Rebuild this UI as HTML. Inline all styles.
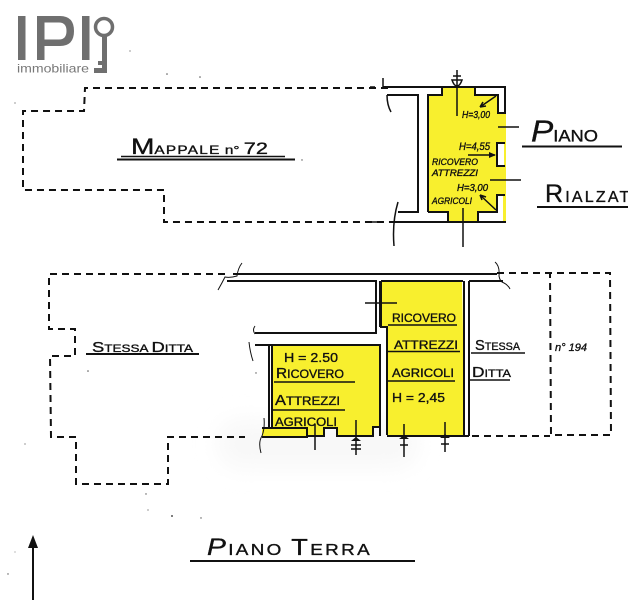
<!DOCTYPE html>
<html><head><meta charset="utf-8"><style>
html,body{margin:0;padding:0;background:#fff;width:628px;height:600px;overflow:hidden}
svg{display:block}
text{font-family:"Liberation Sans",sans-serif;fill:#111;stroke:#111;stroke-width:.35}
.d{fill:none;stroke:#111;stroke-width:2;stroke-dasharray:7 5}
.l{fill:none;stroke:#111;stroke-width:1.5}
.t{fill:none;stroke:#111;stroke-width:1}
.h{fill:none;stroke:#111;stroke-width:2}
.y{fill:#f8ef2e}
</style></head><body>
<svg width="628" height="600" viewBox="0 0 628 600" xmlns="http://www.w3.org/2000/svg">
<defs><filter id="b" x="-30%" y="-60%" width="160%" height="220%"><feGaussianBlur stdDeviation="11"/></filter></defs>
<!-- watermark -->
<rect x="218" y="420" width="200" height="48" rx="22" fill="#f8f8f8" filter="url(#b)"/>
<!-- logo -->
<g fill="#6f6f6f">
<rect x="18" y="16" width="7.500" height="44"/>
<rect x="82" y="16" width="7.500" height="44"/>
<path d="M37 16H60Q74 16 74 31Q74 46 60 46H44.500V60H37ZM44.500 22.500V39.500H59Q66.500 39.500 66.500 31Q66.500 22.500 59 22.500Z" fill-rule="evenodd"/>
<rect x="102" y="35" width="5" height="38"/>
<rect x="94" y="68" width="13" height="5"/>
<rect x="98" y="61" width="4" height="4"/>
</g>
<circle cx="104" cy="27" r="8.500" fill="none" stroke="#6f6f6f" stroke-width="3.500"/>
<text x="17" y="72.500" font-size="12" textLength="72" lengthAdjust="spacingAndGlyphs" style="fill:#777;stroke:none">immobiliare</text>

<!-- yellow fills -->
<polygon class="y" points="428,95 442,95 442,88 475,88 475,95 498,95 498,113 506,113 506,222 503,222 503,195 497,195 497,212 478,212 478,222 448,222 448,212 428,212"/>
<rect x="497" y="143" width="7" height="23" fill="#fff"/>
<polygon class="y" points="381,281 462,281 465,435 387,435 387,327 381,327"/>
<polygon class="y" points="272,345 380,345 380,427 373,427 373,436 337,436 337,428 324,428 324,436 307,436 307,437 262,437 262,428 272,428"/>

<!-- upper dashed -->
<path class="d" d="M388 88H85L84 111H23V190H164V222H396"/>
<!-- upper walls -->
<path class="h" d="M383 87H505V113H498V95H475V87M387 95H418V212H398M428 212V95H442V87M394 222H506M428 212H448V222M478 222V212H497V195H505M505 143H497V166H505"/>
<path class="l" d="M383 78V88M387 95Q387 105 391 112M398 202Q392 222 394 246M370 87H375M370 222H378"/>
<path class="l" d="M457 70V116M453 76H461M452 80H462Q460 86 457 86Q454 86 452 80ZM463 208V247M498 127H519M490 180H521"/>
<path class="l" d="M496 96L480 107M480 107L486 106M480 107L483 102M480 195L496 210M480 195L486 197M480 195L482 200M468 155H495"/>
<path d="M496 155L489 152V158Z" fill="#111"/>
<!-- upper texts -->
<g font-style="italic">
<text x="462" y="118" font-size="10" textLength="28" lengthAdjust="spacingAndGlyphs">H=3,00</text>
<text x="459" y="150" font-size="11" textLength="31" lengthAdjust="spacingAndGlyphs">H=4,55</text>
<text x="432" y="165" font-size="9" textLength="46" lengthAdjust="spacingAndGlyphs">RICOVERO</text>
<text x="432" y="176" font-size="9" textLength="46" lengthAdjust="spacingAndGlyphs">ATTREZZI</text>
<text x="457" y="191" font-size="10" textLength="31" lengthAdjust="spacingAndGlyphs">H=3,00</text>
<text x="432" y="204" font-size="9" textLength="40" lengthAdjust="spacingAndGlyphs">AGRICOLI</text>
</g>
<text x="131" y="154" textLength="137" lengthAdjust="spacingAndGlyphs" font-size="12"><tspan font-size="22">M</tspan><tspan letter-spacing="1">APPALE</tspan> <tspan>n° </tspan><tspan font-size="17">72</tspan></text>
<path class="l" d="M121 156.500H285"/><path class="h" d="M117 159.500H295"/>
<text x="531" y="141.500" textLength="67" lengthAdjust="spacingAndGlyphs" font-size="17"><tspan font-size="31" font-style="italic">P</tspan>IANO</text>
<path class="h" d="M522 146.500H622M537 207H628"/>
<text x="545" y="202" font-size="16" letter-spacing="2.200"><tspan font-size="25">R</tspan>IALZATO</text>

<!-- lower dashed -->
<path class="d" d="M225 274H49V329H75V356H50L51 437H76V484H168V437H245"/>
<path class="d" d="M497 273H610L611 435H551L550 273M472 436H550"/>
<!-- lower walls -->
<path class="h" d="M233 274H497M227 281H376V333H255M469 281H503M469 281V436M464 281V435M381 281H463M381 281V327H387V435M376 333V281M380 281V327M272 345H380V427M255 345H272M272 345V428M269 345V428M262 428H307V437H262M307 436H324V428H337V436H373V427H380V436M387 436H469"/>
<path class="t" d="M242 263Q238 268 237 276Q230 278 225 277Q222 283 218 290M495 262Q500 266 499 276Q500 282 504 283Q508 285 510 289M255 326Q252 330 255 334M249 342Q250 352 253 361M264 418Q265 428 262 436Q258 442 261 453"/>
<path class="l" d="M365 303H397M356 420V455M404 424V457M445 422V452M315 424V450"/>
<path d="M351 441H361L356 437ZM399 439H409L404 435ZM440 438H450L445 434Z" fill="#111"/>
<path class="l" d="M351 445H361M351 449H361M400 445H408M441 444H449"/>

<!-- lower texts -->
<text x="92" y="352" textLength="101" lengthAdjust="spacingAndGlyphs" font-size="11"><tspan font-size="15">S</tspan>TESSA <tspan font-size="15">D</tspan>ITTA</text>
<path class="h" d="M86 354H199"/>
<text x="392" y="322" font-size="12" textLength="64" lengthAdjust="spacingAndGlyphs">RICOVERO</text>
<path class="l" d="M388 325H457"/>
<text x="394" y="349" font-size="12" textLength="64" lengthAdjust="spacingAndGlyphs">ATTREZZI</text>
<path class="l" d="M388 351.500H460"/>
<text x="392" y="377" font-size="12" textLength="62" lengthAdjust="spacingAndGlyphs">AGRICOLI</text>
<path class="l" d="M387 381H455"/>
<text x="392" y="402" font-size="13" textLength="53" lengthAdjust="spacingAndGlyphs">H = 2,45</text>
<text x="475" y="350" textLength="45" lengthAdjust="spacingAndGlyphs" font-size="11"><tspan font-size="15">S</tspan>TESSA</text>
<path class="l" d="M471 353H525M470 380H510"/>
<text x="472" y="377" textLength="39" lengthAdjust="spacingAndGlyphs" font-size="11"><tspan font-size="15">D</tspan>ITTA</text>
<text x="555" y="351" font-size="11" font-style="italic" textLength="32" lengthAdjust="spacingAndGlyphs">n° 194</text>
<text x="284" y="362" font-size="13" textLength="54" lengthAdjust="spacingAndGlyphs">H = 2.50</text>
<text x="276" y="378" font-size="12" textLength="68" lengthAdjust="spacingAndGlyphs"><tspan font-size="15">R</tspan>ICOVERO</text>
<path class="l" d="M274 382H355M272 410H345"/>
<text x="275" y="405" font-size="12" textLength="65" lengthAdjust="spacingAndGlyphs"><tspan font-size="15">A</tspan>TTREZZI</text>
<text x="275" y="426" font-size="12" textLength="62" lengthAdjust="spacingAndGlyphs">AGRICOLI</text>

<!-- bottom title -->
<text x="207" y="555" textLength="165" lengthAdjust="spacingAndGlyphs" font-size="16" letter-spacing="2"><tspan font-size="24" font-style="italic">P</tspan>IANO <tspan font-size="23">T</tspan>ERRA</text>
<path class="h" d="M190 561H415"/>
<path class="h" d="M33 545V600"/>
<path d="M33 535L38 548H28Z" fill="#111"/>
<!-- specks -->
<g fill="#555">
<circle cx="130" cy="51" r=".6"/><circle cx="167" cy="74" r=".8"/><circle cx="200" cy="77" r=".8"/><circle cx="15" cy="103" r=".6"/><circle cx="302" cy="160" r=".7"/><circle cx="88" cy="371" r=".8"/><circle cx="256" cy="373" r=".7"/><circle cx="25" cy="444" r=".6"/><circle cx="146" cy="494" r=".7"/><circle cx="148" cy="510" r=".6"/><circle cx="172" cy="516" r="1"/><circle cx="201" cy="518" r=".7"/><circle cx="15" cy="552" r=".5"/><circle cx="8" cy="574" r=".7"/>
</g>
</svg>
</body></html>
